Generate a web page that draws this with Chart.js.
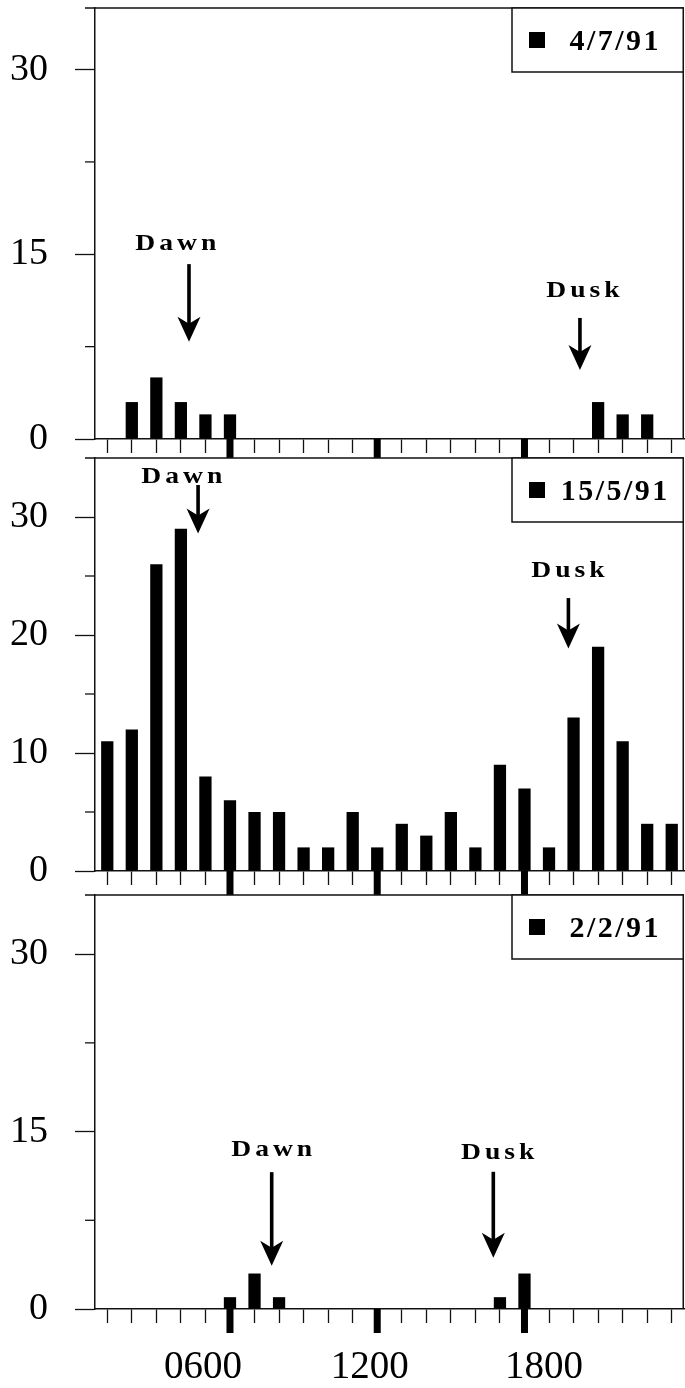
<!DOCTYPE html>
<html>
<head>
<meta charset="utf-8">
<script src="https://cdn.jsdelivr.net/npm/chart.js@4.4.1/dist/chart.umd.min.js"></script>
<style>
    html, body { margin: 0; padding: 0; background: #fff; }
    #page { position: relative; width: 685px; height: 1388px; overflow: hidden; }
    .panel { position: absolute; left: 0; width: 685px; }
</style>
</head>
<body>
<div id="page">
    <div class="panel" style="top:0;height:458px"><canvas id="chartJul"></canvas></div>
    <div class="panel" style="top:450px;height:445px"><canvas id="chartMay"></canvas></div>
    <div class="panel" style="top:887px;height:501px"><canvas id="chartFeb"></canvas></div>
</div>
<script>
// one slot per hour of the day
const hours = ['0100', '0200', '0300', '0400', '0500', '0600', '0700', '0800',
    '0900', '1000', '1100', '1200', '1300', '1400', '1500', '1600',
    '1700', '1800', '1900', '2000', '2100', '2200', '2300', '2400'];

const countsJul = [0, 3, 5, 3, 2, 2, 0, 0, 0, 0, 0, 0, 0, 0, 0, 0, 0, 0, 0, 0, 3, 2, 2, 0];
const countsMay = [11, 12, 26, 29, 8, 6, 5, 5, 2, 2, 5, 2, 4, 3, 5, 2, 9, 7, 2, 13, 19, 11, 4, 4];
const countsFeb = [0, 0, 0, 0, 0, 1, 3, 1, 0, 0, 0, 0, 0, 0, 0, 0, 1, 3, 0, 0, 0, 0, 0, 0];

// y tick labels (the in-between ticks are unlabelled)
const yLabelsWide = [0, 15, 30];
const yLabelsNarrow = [0, 10, 20, 30];

// x tick labels under the last panel, and where they were printed (hour-slot units)
const xTickLabels = ['0600', '1200', '1800'];
const xLabelAt = [3.9, 10.7, 17.8];

// dawn / dusk markers: text position and arrow, in hour-slot / count units
const notesJul = [
    { text: 'Dawn', at: 2.79, level: 15.35, arrowAt: 3.33, from: 14.2, to: 7.9 },
    { text: 'Dusk', at: 19.38, level: 11.56, arrowAt: 19.26, from: 9.83, to: 5.6 }
];
const notesMay = [
    { text: 'Dawn', at: 3.04, level: 32.86, arrowAt: 3.70, from: 32.71, to: 28.6 },
    { text: 'Dusk', at: 18.77, level: 24.93, arrowAt: 18.79, from: 23.13, to: 18.86 }
];
const notesFeb = [
    { text: 'Dawn', at: 6.70, level: 12.95, arrowAt: 6.70, from: 11.57, to: 3.66 },
    { text: 'Dusk', at: 15.91, level: 12.69, arrowAt: 15.73, from: 11.6, to: 4.33 }
];

const SERIF = "'Liberation Serif', 'Times New Roman', serif";
const INK = '#111';

// heavy ticks sit on the labelled hours
const heavyIdx = xTickLabels.map(l => hours.indexOf(l));

function spacedText(ctx, text, x, baseY, spacing, stretch) {
    const chars = [...text];
    const widths = chars.map(ch => ctx.measureText(ch).width * stretch);
    const total = widths.reduce((a, b) => a + b, 0) + spacing * (chars.length - 1);
    let px = x - total / 2;
    chars.forEach((ch, i) => {
        ctx.save();
        ctx.translate(px, baseY);
        ctx.scale(stretch, 1);
        ctx.fillText(ch, 0, 0);
        ctx.restore();
        px += widths[i] + spacing;
    });
}

function drawArrow(ctx, px, top, tip) {
    ctx.fillRect(px - 1.8, top, 3.6, tip - top - 14);
    ctx.beginPath();
    ctx.moveTo(px, tip);
    ctx.lineTo(px - 11.5, tip - 25);
    ctx.lineTo(px, tip - 18);
    ctx.lineTo(px + 11.5, tip - 25);
    ctx.closePath();
    ctx.fill();
}

const decor = {
    id: 'decor',
    afterDraw(chart, args, opts) {
        const ctx = chart.ctx;
        const area = chart.chartArea;
        const xs = chart.scales.x, ys = chart.scales.y;
        ctx.save();

        // box: top line (runs a little past the axis) and right side
        ctx.strokeStyle = INK;
        ctx.lineWidth = 1.5;
        ctx.beginPath();
        ctx.moveTo(area.left - 10, area.top);
        ctx.lineTo(area.right, area.top);
        ctx.moveTo(area.right - 0.75, area.top);
        ctx.lineTo(area.right - 0.75, area.bottom);
        ctx.stroke();

        // short unlabelled y ticks
        ctx.lineWidth = 1.3;
        ys.ticks.forEach(t => {
            if (opts.major.includes(t.value) || t.value >= ys.max) return;
            const py = ys.getPixelForValue(t.value);
            ctx.beginPath();
            ctx.moveTo(area.left - 10, py);
            ctx.lineTo(area.left, py);
            ctx.stroke();
        });

        // heavy hour marks
        ctx.fillStyle = '#000';
        heavyIdx.forEach(i => {
            const px = xs.getPixelForValue(i);
            ctx.fillRect(px - 3.5, area.bottom, 7, opts.heavyLen);
        });

        // legend box
        const ds = chart.data.datasets[0];
        const bw = 172, bh = 64;
        const bx = area.right - bw, by = area.top;
        ctx.fillStyle = '#fff';
        ctx.fillRect(bx, by, bw, bh);
        ctx.lineWidth = 1.5;
        ctx.strokeRect(bx, by, bw - 0.75, bh);
        ctx.fillStyle = ds.backgroundColor;
        ctx.fillRect(bx + 17, by + bh / 2 - 8, 16, 16);
        ctx.font = 'bold 30px ' + SERIF;
        ctx.textBaseline = 'alphabetic';
        spacedText(ctx, ds.label, area.right - 70, by + bh / 2 + 10, 2.5, 1);

        // dawn / dusk
        ctx.fillStyle = '#000';
        ctx.font = 'bold 23px ' + SERIF;
        opts.notes.forEach(n => {
            spacedText(ctx, n.text, xs.getPixelForValue(n.at), ys.getPixelForValue(n.level), 4, 1.2);
            drawArrow(ctx, xs.getPixelForValue(n.arrowAt), ys.getPixelForValue(n.from), ys.getPixelForValue(n.to));
        });

        ctx.restore();
    }
};

function buildPanel(id, counts, date, major, minorStep, notes, xAxisH, heavyLen, withLabels) {
    const scales = {
        x: {
            type: 'category',
            offset: true,
            grid: {
                drawOnChartArea: false,
                offset: false,
                tickLength: 14,
                tickWidth: 1.3,
                tickColor: c => heavyIdx.includes(c.index) ? 'transparent' : INK
            },
            border: { display: true, color: INK, width: 1.5 },
            ticks: { display: false },
            afterFit: s => { s.height = xAxisH; s.paddingLeft = 0; s.paddingRight = 0; }
        },
        y: {
            min: 0,
            max: 35,
            ticks: {
                stepSize: minorStep,
                autoSkip: false,
                padding: 27,
                color: '#000',
                font: { family: SERIF, size: 38 },
                callback: v => major.includes(v) ? String(v) : ''
            },
            grid: {
                drawOnChartArea: false,
                tickLength: 20,
                tickWidth: 1.3,
                tickColor: c => major.includes(c.tick.value) ? INK : 'transparent'
            },
            border: { color: INK, width: 1.5 },
            afterFit: s => { s.width = 95; s.paddingTop = 0; s.paddingBottom = 0; }
        }
    };
    if (withLabels) {
        // label row in hour-slot units, lined up with the category slots
        scales.xl = {
            type: 'linear',
            position: 'bottom',
            weight: 1,
            offset: false,
            min: -0.5,
            max: 23.5,
            grid: { display: false, drawTicks: false, offset: false },
            border: { display: false },
            ticks: {
                autoSkip: false,
                maxRotation: 0,
                padding: 15,
                color: '#000',
                font: { family: SERIF, size: 39 },
                callback: (v, i) => xTickLabels[i]
            },
            afterBuildTicks: s => {
                s.min = -0.5;
                s.max = 23.5;
                s.ticks = xLabelAt.map(v => ({ value: v }));
            },
            afterFit: s => { s.height = 59; s.paddingLeft = 0; s.paddingRight = 0; }
        };
    }

    return new Chart(document.getElementById(id), {
        type: 'bar',
        data: {
            labels: hours,
            datasets: [{
                label: date,
                data: counts,
                backgroundColor: '#000',
                borderWidth: 0,
                barPercentage: 0.5,
                categoryPercentage: 1.0
            }]
        },
        options: {
            responsive: true,
            maintainAspectRatio: false,
            animation: false,
            layout: { padding: { top: 8, right: 1, left: 0, bottom: 0 } },
            plugins: {
                legend: { display: false },
                tooltip: { enabled: false },
                decor: { major: major, notes: notes, heavyLen: heavyLen }
            },
            scales: scales
        },
        plugins: [decor]
    });
}

document.addEventListener('DOMContentLoaded', () => {
    buildPanel('chartJul', countsJul, '4/7/91', yLabelsWide, 7.5, notesJul, 19, 19, false);
    buildPanel('chartMay', countsMay, '15/5/91', yLabelsNarrow, 5, notesMay, 24, 24, false);
    buildPanel('chartFeb', countsFeb, '2/2/91', yLabelsWide, 7.5, notesFeb, 20, 24, true);
});
</script>
</body>
</html>
